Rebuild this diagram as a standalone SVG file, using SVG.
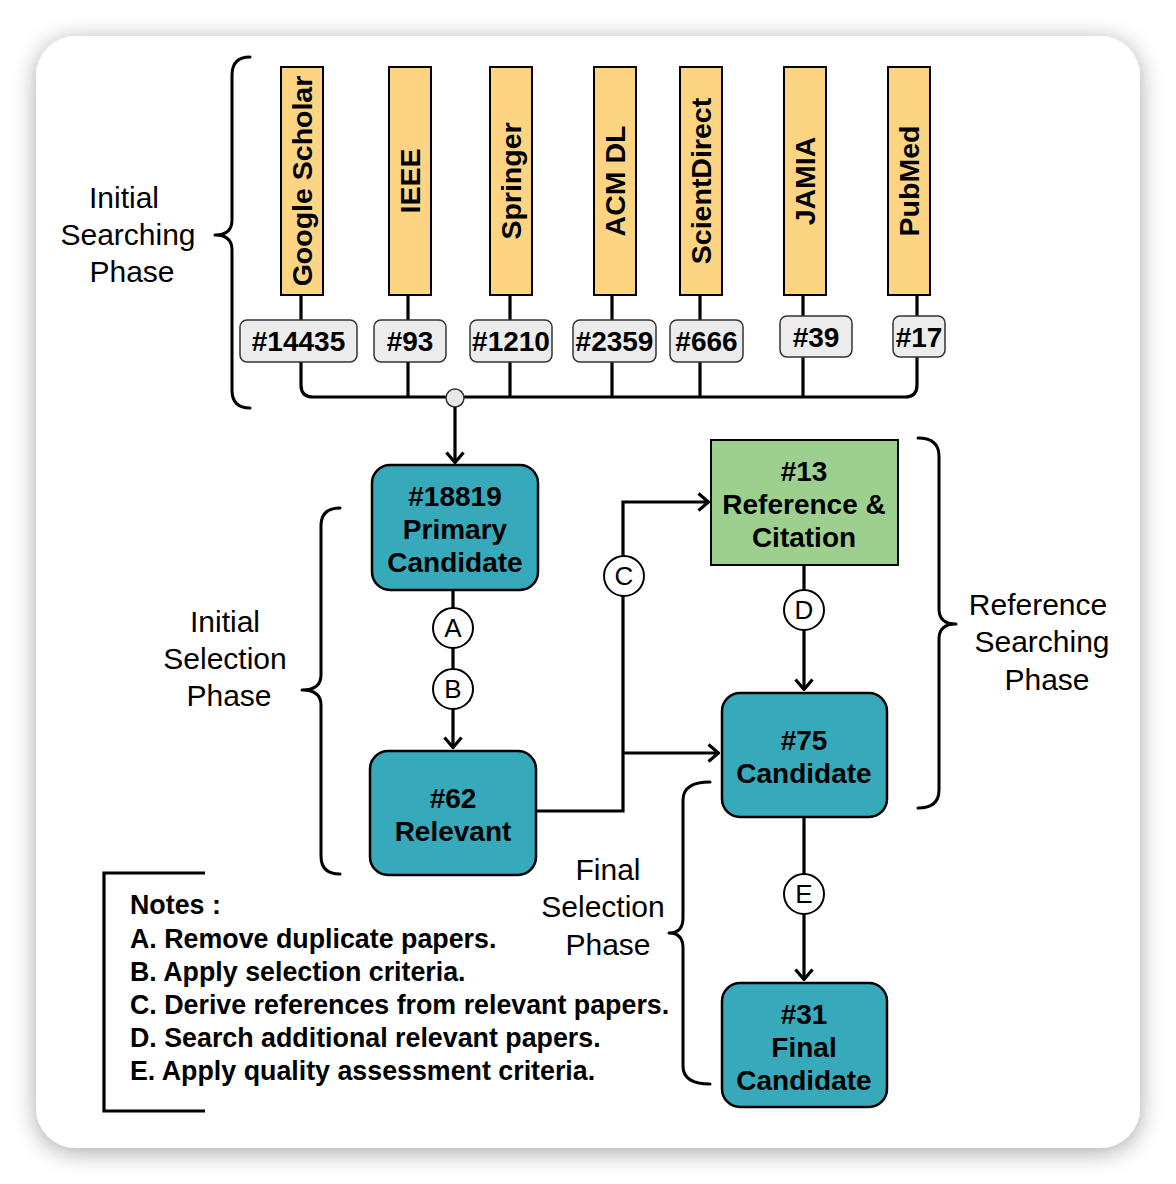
<svg xmlns="http://www.w3.org/2000/svg" width="1176" height="1184" viewBox="0 0 1176 1184">
<defs>
<filter id="sh" x="-10%" y="-10%" width="120%" height="120%">
<feGaussianBlur in="SourceAlpha" stdDeviation="12"/>
<feOffset dx="0" dy="4" result="b"/>
<feComponentTransfer><feFuncA type="linear" slope="0.35"/></feComponentTransfer>
<feMerge><feMergeNode/><feMergeNode in="SourceGraphic"/></feMerge>
</filter>
<marker id="arr" viewBox="0 0 13 20" refX="12" refY="10" markerWidth="13" markerHeight="20" markerUnits="userSpaceOnUse" orient="auto">
<path d="M1.5,1.5 L11.5,10 L1.5,18.5" fill="none" stroke="#000" stroke-width="3.2"/>
</marker>
<style>
.bar{fill:#fdd582;stroke:#000;stroke-width:2}
.cnt{fill:#ececec;stroke:#333;stroke-width:1.5}
.node{fill:#36a9bb;stroke:#000;stroke-width:2.5}
.green{fill:#9dcf8e;stroke:#000;stroke-width:2}
.ln{fill:none;stroke:#000;stroke-width:3.2}
.br{fill:none;stroke:#000;stroke-width:3;stroke-linecap:round;stroke-linejoin:round}
.lbl{font-family:"Liberation Sans",Arial,sans-serif;font-weight:bold;font-size:28px;fill:#000;text-anchor:middle}
.bt{font-family:"Liberation Sans",Arial,sans-serif;font-weight:bold;font-size:28.5px;fill:#000;text-anchor:middle}
.ph{font-family:"Liberation Sans",Arial,sans-serif;font-size:30px;fill:#000;text-anchor:middle}
.cl{fill:#fff;stroke:#000;stroke-width:2}
.ct{font-family:"Liberation Sans",Arial,sans-serif;font-size:26px;fill:#000;text-anchor:middle}
.nt{font-family:"Liberation Sans",Arial,sans-serif;font-weight:bold;font-size:26.8px;fill:#000}
</style>
</defs>
<rect width="1176" height="1184" fill="#fff"/>
<rect x="36" y="36" width="1104" height="1112" rx="40" fill="#fff" filter="url(#sh)"/>

<g id="connectors">
<path class="ln" d="M301,295 L301,320"/>
<path class="ln" d="M408,295 L408,320"/>
<path class="ln" d="M510,295 L510,320"/>
<path class="ln" d="M612,295 L612,320"/>
<path class="ln" d="M700,295 L700,320"/>
<path class="ln" d="M803,295 L803,316"/>
<path class="ln" d="M917,295 L917,316"/>
<path class="ln" d="M301,362 L301,385 Q301,397 313,397 L905,397 Q917,397 917,385 L917,356"/>
<path class="ln" d="M408,362 L408,397"/>
<path class="ln" d="M510,362 L510,397"/>
<path class="ln" d="M612,362 L612,397"/>
<path class="ln" d="M700,362 L700,397"/>
<path class="ln" d="M803,357 L803,397"/>
<circle cx="455" cy="398" r="9" fill="#e8e8e8" stroke="#333" stroke-width="1.5"/>
<path class="ln" d="M455,407 L455,463" marker-end="url(#arr)"/>
<path class="ln" d="M453,590 L453,748" marker-end="url(#arr)"/>
<path class="ln" d="M536,811 L623,811 L623,502 L709,502" marker-end="url(#arr)"/>
<path class="ln" d="M623,753 L719,753" marker-end="url(#arr)"/>
<path class="ln" d="M804,565 L804,690" marker-end="url(#arr)"/>
<path class="ln" d="M804,817 L804,980" marker-end="url(#arr)"/>
<circle class="cl" cx="453" cy="628" r="20"/><text class="ct" x="453" y="637">A</text>
<circle class="cl" cx="453" cy="689" r="20"/><text class="ct" x="453" y="698">B</text>
<circle class="cl" cx="624" cy="576" r="20"/><text class="ct" x="624" y="585">C</text>
<circle class="cl" cx="804" cy="610" r="20"/><text class="ct" x="804" y="619">D</text>
<circle class="cl" cx="804" cy="894" r="20"/><text class="ct" x="804" y="903">E</text>
</g>

<g id="sources">
<g id="src-google"><rect class="bar" x="281" y="67" width="42" height="228"/><text class="bt" transform="translate(312,181) rotate(-90)">Google Scholar</text></g>
<g id="src-ieee"><rect class="bar" x="389" y="67" width="42" height="228"/><text class="bt" transform="translate(420,181) rotate(-90)">IEEE</text></g>
<g id="src-springer"><rect class="bar" x="490" y="67" width="42" height="228"/><text class="bt" transform="translate(521,181) rotate(-90)">Springer</text></g>
<g id="src-acm"><rect class="bar" x="594" y="67" width="42" height="228"/><text class="bt" transform="translate(625,181) rotate(-90)">ACM DL</text></g>
<g id="src-sd"><rect class="bar" x="680" y="67" width="42" height="228"/><text class="bt" transform="translate(711,181) rotate(-90)">ScientDirect</text></g>
<g id="src-jamia"><rect class="bar" x="784" y="67" width="42" height="228"/><text class="bt" transform="translate(815,181) rotate(-90)">JAMIA</text></g>
<g id="src-pubmed"><rect class="bar" x="888" y="67" width="42" height="228"/><text class="bt" transform="translate(919,181) rotate(-90)">PubMed</text></g>
</g>

<g id="counts">
<g id="c-14435"><rect class="cnt" x="240" y="320" width="117" height="42" rx="7"/><text class="lbl" x="298.5" y="351">#14435</text></g>
<g id="c-93"><rect class="cnt" x="374" y="320" width="72" height="42" rx="7"/><text class="lbl" x="410" y="351">#93</text></g>
<g id="c-1210"><rect class="cnt" x="470" y="320" width="82" height="42" rx="7"/><text class="lbl" x="511" y="351">#1210</text></g>
<g id="c-2359"><rect class="cnt" x="573" y="320" width="83" height="42" rx="7"/><text class="lbl" x="614.5" y="351">#2359</text></g>
<g id="c-666"><rect class="cnt" x="670" y="320" width="73" height="42" rx="7"/><text class="lbl" x="706.5" y="351">#666</text></g>
<g id="c-39"><rect class="cnt" x="780" y="316" width="72" height="41" rx="7"/><text class="lbl" x="816" y="347">#39</text></g>
<g id="c-17"><rect class="cnt" x="893" y="316" width="52" height="41" rx="7"/><text class="lbl" x="919" y="347">#17</text></g>
</g>

<g id="n-primary"><rect class="node" x="372" y="465" width="166" height="125" rx="18"/>
<text class="lbl" x="455" y="506">#18819</text><text class="lbl" x="455" y="539">Primary</text><text class="lbl" x="455" y="572">Candidate</text></g>
<g id="n-reference"><rect class="green" x="711" y="440" width="187" height="125"/>
<text class="lbl" x="804" y="481">#13</text><text class="lbl" x="804" y="514">Reference &amp;</text><text class="lbl" x="804" y="547">Citation</text></g>
<g id="n-relevant"><rect class="node" x="370" y="751" width="166" height="124" rx="18"/>
<text class="lbl" x="453" y="808">#62</text><text class="lbl" x="453" y="841">Relevant</text></g>
<g id="n-candidate"><rect class="node" x="722" y="693" width="165" height="124" rx="18"/>
<text class="lbl" x="804" y="750">#75</text><text class="lbl" x="804" y="783">Candidate</text></g>
<g id="n-final"><rect class="node" x="722" y="983" width="165" height="124" rx="18"/>
<text class="lbl" x="804" y="1024">#31</text><text class="lbl" x="804" y="1057">Final</text><text class="lbl" x="804" y="1090">Candidate</text></g>

<g id="phase-initial-search">
<path class="br" d="M250,57 Q232,57 232,75 L232,220 Q232,235 215,235 Q232,235 232,250 L232,390 Q232,408 250,408"/>
<text class="ph" x="124" y="208">Initial</text><text class="ph" x="128" y="245">Searching</text><text class="ph" x="132" y="282">Phase</text>
</g>
<g id="phase-initial-select">
<path class="br" d="M340,508 Q321,508 321,526 L321,675 Q321,690 302,690 Q321,690 321,705 L321,856 Q321,874 340,874"/>
<text class="ph" x="225" y="632">Initial</text><text class="ph" x="225" y="669">Selection</text><text class="ph" x="229" y="706">Phase</text>
</g>
<g id="phase-reference">
<path class="br" d="M918,438 Q939,438 939,456 L939,609 Q939,624 956,624 Q939,624 939,639 L939,790 Q939,808 918,808"/>
<text class="ph" x="1038" y="615">Reference</text><text class="ph" x="1042" y="652">Searching</text><text class="ph" x="1047" y="690">Phase</text>
</g>
<g id="phase-final">
<path class="br" d="M710,782 Q683,782 683,800 L683,918 Q683,933 669,933 Q683,933 683,948 L683,1066 Q683,1084 710,1084"/>
<text class="ph" x="608" y="880">Final</text><text class="ph" x="603" y="917">Selection</text><text class="ph" x="608" y="955">Phase</text>
</g>

<g id="notes">
<path class="ln" d="M205,873 L104,873 L104,1111 L205,1111"/>
<text class="nt" x="130" y="914">Notes :</text>
<text class="nt" x="130" y="948">A. Remove duplicate papers.</text>
<text class="nt" x="130" y="981">B. Apply selection criteria.</text>
<text class="nt" x="130" y="1014">C. Derive references from relevant papers.</text>
<text class="nt" x="130" y="1047">D. Search additional relevant papers.</text>
<text class="nt" x="130" y="1080">E. Apply quality assessment criteria.</text>
</g>
</svg>
